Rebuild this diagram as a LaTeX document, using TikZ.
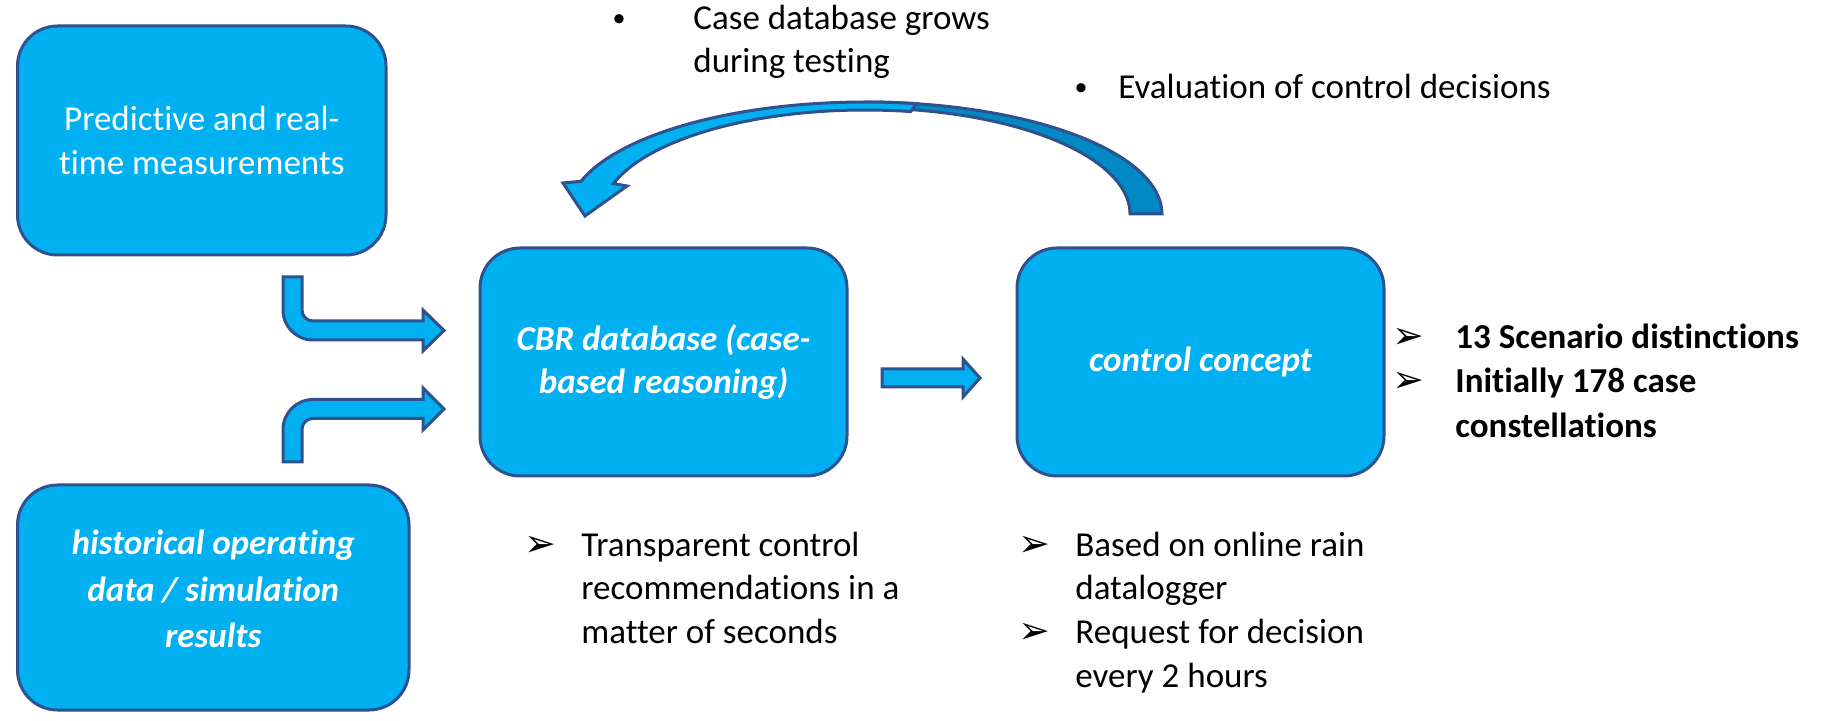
\documentclass[tikz,border=0pt]{standalone}
\usepackage{fontspec}
\setmainfont{Carlito}[Ligatures=NoCommon]
\newfontfamily\symfont{DejaVu Sans}
\definecolor{boxfill}{HTML}{00B0F0}
\definecolor{boxline}{HTML}{2F528F}
\definecolor{darkface}{HTML}{0089C4}
\begin{document}
\begin{tikzpicture}[x=0.5pt,y=-0.5pt,
  box/.style={draw=boxline, fill=boxfill, line width=1.5pt, rounded corners=20pt,
    text=white, align=center, inner sep=0pt, font=\fontsize{17.5}{21.8}\selectfont},
  boxtext/.style={text=white, align=center, inner sep=0pt},
  blockarrow/.style={draw=boxline, fill=boxfill, line width=1.5pt, line join=miter},
  txt/.style={anchor=base west, inner sep=0pt, font=\fontsize{17.5}{21.8}\selectfont},
  boldtxt/.style={txt, font=\fontsize{17.5}{21.8}\selectfont\bfseries},
  bul/.style={anchor=base, inner sep=0pt, font=\fontsize{13}{16}\selectfont},
  arr/.style={anchor=base, inner sep=0pt, font=\symfont\fontsize{19}{20}\selectfont},
]
\useasboundingbox (0,0) rectangle (1832,721);

% boxes
\node[box, minimum width=184.25pt, minimum height=114.5pt] (meas) at (201.75,140.5)
  {Predictive and real-\\time measurements};
\node[box, minimum width=195.75pt, minimum height=112.5pt] (hist) at (213.25,597.5) {};
\node[boxtext, font=\fontsize{17.5}{23.2}\selectfont\bfseries\itshape] (histtxt) at (213.25,589)
  {historical operating\\data / simulation\\results};
\node[box, minimum width=183.5pt, minimum height=114pt, font=\fontsize{17.5}{21.8}\selectfont\bfseries\itshape] (cbr) at (663.5,362)
  {CBR database (case-\\based reasoning)};
\node[box, minimum width=183.5pt, minimum height=114pt, font=\fontsize{17.5}{21.8}\selectfont\bfseries\itshape] (ctrl) at (1200.5,362)
  {control concept};

% bent block arrows into the CBR database
\draw[blockarrow] (283,277) -- (302,277) -- (302,310)
  .. controls (302,316.1) and (306.9,321) .. (313,321) -- (423,321) -- (423,310)
  -- (444,330.5) -- (423,351) -- (423,340) -- (313,340)
  .. controls (296.4,340) and (283,326.6) .. (283,310) -- cycle;
\draw[blockarrow] (283,462) -- (283,429.5)
  .. controls (283,412.9) and (296.4,399.5) .. (313,399.5) -- (423,399.5) -- (423,388)
  -- (444,409) -- (423,430) -- (423,418.5) -- (313,418.5)
  .. controls (306.9,418.5) and (302,423.4) .. (302,429.5) -- (302,462) -- cycle;

% straight block arrow CBR -> control
\draw[blockarrow] (882,369) -- (963,369) -- (963,359) -- (980,378) -- (963,397)
  -- (963,387) -- (882,387) -- cycle;

% curved feedback arrow
\draw[blockarrow, fill=darkface]
  plot[domain=0:90, samples=40, variable=\t] ({865+297*cos(\t)},{214-112*sin(\t)})
  -- plot[domain=90:0, samples=40, variable=\t] ({865+265*cos(\t)},{214-106*sin(\t)})
  -- cycle;
\draw[blockarrow]
  plot[domain=80:163, samples=40, variable=\t] ({865+297*cos(\t)},{214-112*sin(\t)})
  -- (563,183) -- (585,216) -- (627,186)
  -- plot[domain=163:80, samples=40, variable=\t] ({865+263*cos(\t)},{214-104*sin(\t)})
  -- cycle;

% top notes
\node[bul] (b1) at (619,27) {•};
\node[txt] (n1a) at (693,30) {Case database grows};
\node[txt] (n1b) at (693,73) {during testing};
\node[bul] (b2) at (1081,96) {•};
\node[txt] (n2) at (1118,99) {Evaluation of control decisions};

% right list
\node[arr] (r1) at (1408,349) {➢};
\node[boldtxt] (r1t) at (1455,349) {13 Scenario distinctions};
\node[arr] (r2) at (1408,393) {➢};
\node[boldtxt] (r2t) at (1455,393) {Initially 178 case};
\node[boldtxt] (r2u) at (1455,438) {constellations};

% bottom left list
\node[arr] (l1) at (540,557) {➢};
\node[txt] (l1a) at (581,557) {Transparent control};
\node[txt] (l1b) at (581,599) {recommendations in a};
\node[txt] (l1c) at (581,643) {matter of seconds};

% bottom right list
\node[arr] (c1) at (1034,557) {➢};
\node[txt] (c1a) at (1075,557) {Based on online rain};
\node[txt] (c1b) at (1075,599) {datalogger};
\node[arr] (c2) at (1034,643) {➢};
\node[txt] (c2a) at (1075,643) {Request for decision};
\node[txt] (c2b) at (1075,687) {every 2 hours};
\end{tikzpicture}
\end{document}
